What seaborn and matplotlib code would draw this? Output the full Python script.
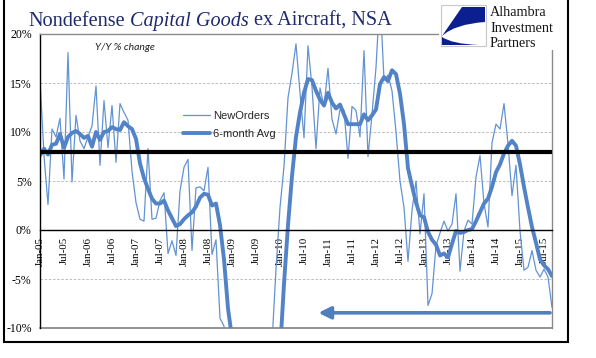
import matplotlib
matplotlib.use("Agg")
import matplotlib.pyplot as plt
import numpy as np
import pandas as pd
import seaborn as sns
from matplotlib.path import Path
from matplotlib.patches import PathPatch, Rectangle

# ---------------- data (monthly, Jan-05 .. Sep-15) ----------------
new_orders = [
    15.4, 7.6, 2.6, 10.3, 9.5, 11.4, 5.2, 18.1, 4.9, 11.7, 9.1, 8.3,      # 2005
    9.5, 10.6, 14.7, 6.6, 13.2, 8.4, 12.7, 6.9, 12.9, 12.0, 11.2, 6.0,    # 2006
    2.8, 1.1, 0.9, 8.3, 1.1, 1.2, 3.0, 3.8, -2.4, -1.1, -2.6, 4.0,        # 2007
    6.4, 7.2, -2.1, 4.3, 4.4, 4.0, 6.4, -2.5, -1.0, -9.0, -9.8, -18.0,    # 2008
    -22.0, -27.0, -30.0, -33.0, -31.0, -33.0, -30.0, -27.0, -25.0, -20.0, -11.5, -4.0,  # 2009
    2.3, 6.5, 13.5, 16.0, 19.0, 14.0, 9.4, 18.8, 14.6, 8.3, 14.5, 12.6,   # 2010
    16.5, 11.3, 9.8, 12.3, 12.2, 7.3, 12.6, 12.2, 9.5, 18.3, 7.5, 11.8,   # 2011
    16.6, 24.0, 15.3, 15.8, 14.2, 10.0, 5.0, 2.3, -3.2, 2.0, 5.0, -0.4,   # 2012
    3.7, -7.7, -6.5, -1.6, -0.3, 0.9, -0.1, 0.6, 3.7, -4.2, -0.1, 1.0,    # 2013
    0.6, 5.4, 7.6, 2.7, 0.3, 8.9, 10.8, 10.3, 12.9, 8.8, 3.5, 6.6,        # 2014
    -0.1, -4.1, -3.8, -2.1, -4.1, -4.8, -4.0, -4.8, -7.9,                # 2015
]
avg_6m = [
    7.6, 8.3, 7.7, 8.7, 8.8, 9.8, 8.4, 9.5, 9.9, 10.1, 9.8, 9.4,
    9.6, 8.5, 10.0, 9.2, 10.0, 10.1, 10.5, 10.3, 10.2, 11.0, 10.6, 10.3,
    9.3, 6.8, 5.3, 4.2, 3.2, 2.7, 2.7, 3.0, 2.0, 1.2, 0.4, 0.6,
    1.1, 1.5, 1.8, 2.4, 3.3, 3.7, 3.6, 2.5, 2.7, 0.5, -3.0, -8.0,
    -11.0, -16.0, -20.0, -24.0, -27.0, -29.0, -30.0, -29.0, -27.0, -24.0, -20.0, -16.0,
    -12.5, -5.5, 0.5, 5.5, 9.5, 12.0, 14.0, 15.4, 15.3, 14.2, 13.3, 12.7,
    14.0, 13.0, 12.4, 12.8, 11.8, 10.8, 10.8, 10.8, 10.8, 11.8, 11.2, 11.7,
    12.3, 14.9, 15.6, 15.2, 16.3, 15.9, 13.9, 10.8, 6.3, 4.5, 2.8, 1.5,
    1.3, -0.2, -1.0, -1.5, -2.6, -2.4, -2.8, -1.4, -0.1, -0.3, -0.2, 0.0,
    0.1, 0.9, 1.8, 2.7, 3.2, 4.4, 5.9, 6.7, 7.8, 8.6, 9.1, 8.6,
    6.7, 4.4, 2.3, 0.3, -1.3, -3.0, -3.6, -4.0, -4.7,
]
x_tick_labels = [
    "Jan-05", "Jul-05", "Jan-06", "Jul-06", "Jan-07", "Jul-07", "Jan-08", "Jul-08",
    "Jan-09", "Jul-09", "Jan-10", "Jul-10", "Jan-11", "Jul-11", "Jan-12", "Jul-12",
    "Jan-13", "Jul-13", "Jan-14", "Jul-14", "Jan-15", "Jul-15",
]
y_ticks = [-10, -5, 0, 5, 10, 15, 20]
y_tick_labels = ["-10%", "-5%", "0%", "5%", "10%", "15%", "20%"]
threshold = 8
arrow_level = -8.45
arrow_from, arrow_to = 127.5, 69.6

df = pd.DataFrame({"month": np.arange(len(new_orders)),
                   "NewOrders": new_orders, "6-month Avg": avg_6m})

# ---------------- style ----------------
sns.set_theme(style="white")
plt.rcParams["font.family"] = ["Liberation Serif", "DejaVu Serif"]

W, H = 596, 358
fig = plt.figure(figsize=(W / 100, H / 100), dpi=100)
ax = fig.add_axes([40 / W, 1 - 328 / H, 512 / W, 294 / H])

thin_c = "#6393d3"
thick_c = "#5283c6"
sns.lineplot(data=df, x="month", y="NewOrders", ax=ax, color=thin_c, lw=0.9,
             label="NewOrders", zorder=2)
sns.lineplot(data=df, x="month", y="6-month Avg", ax=ax, color=thick_c, lw=2.8,
             label="6-month Avg", zorder=2.1)

ax.set_xlim(0, len(new_orders) - 1)
ax.set_ylim(-10, 20)
ax.set_xlabel("")
ax.set_ylabel("")

for v in [15, 10, 5, -5]:
    ax.axhline(v, color="#b4b4b4", lw=0.6, ls=(0, (3, 2)), zorder=0)
ax.axhline(-10, color="#8a8a8a", lw=1.3, zorder=1, clip_on=False)
ax.axhline(threshold, color="black", lw=3, zorder=3)

for s in ["top", "right"]:
    ax.spines[s].set_color("#8a8a8a")
    ax.spines[s].set_linewidth(1.0)
ax.spines["left"].set_color("black")
ax.spines["left"].set_linewidth(1.0)
ax.spines["bottom"].set_position(("data", 0))
ax.spines["bottom"].set_color("black")
ax.spines["bottom"].set_linewidth(1.0)

ax.set_yticks(y_ticks)
ax.set_yticklabels(y_tick_labels, fontsize=8.5, family="Liberation Serif")
ax.set_xticks(list(range(0, 6 * len(x_tick_labels), 6)))
ax.set_xticklabels(x_tick_labels, rotation=90, fontsize=7.8, family="Liberation Serif")
ax.tick_params(axis="x", direction="out", length=3, width=0.8, pad=2, colors="black")
ax.tick_params(axis="y", direction="out", length=4, width=0.8, pad=2, colors="black")

ax.text((95 - 40) / 512, (328 - 47) / 294, "Y/Y % change", transform=ax.transAxes,
        fontsize=7.5, style="italic", family="Lato", color="#222222",
        ha="left", va="center")

h, l = ax.get_legend_handles_labels()
ax.legend(h, l, loc="upper left", bbox_to_anchor=((183 - 40) / 512, (328 - 111) / 294),
          frameon=False, prop=dict(family="Liberation Sans", size=8),
          handlelength=2.4, handletextpad=0.3, labelspacing=0.75,
          borderpad=0, borderaxespad=0)

ax.annotate("", xy=(arrow_to, arrow_level), xytext=(arrow_from, arrow_level),
            arrowprops=dict(arrowstyle="-|>,head_length=0.6,head_width=0.3",
                            lw=2.6, color="#4f7fbd", shrinkA=0, shrinkB=0),
            zorder=4)

# ---------------- overlay (pixel coordinates) ----------------
ov = fig.add_axes([0, 0, 1, 1])
ov.set_xlim(0, W)
ov.set_ylim(H, 0)
ov.axis("off")

ov.add_patch(Rectangle((438.5, 0), W - 438.5, 49.5, fc="white", ec="none", zorder=1))
ov.add_patch(Rectangle((441, 5), 45, 41, fc="white", ec="#c8c8c8", lw=0.8, zorder=2))
blue = "#0b1f8e"
top_piece = Path([(462, 7), (485, 7), (485, 22), (455, 24), (442, 36), (462, 7)],
                 [Path.MOVETO, Path.LINETO, Path.LINETO, Path.CURVE3, Path.CURVE3,
                  Path.CLOSEPOLY])
bot_piece = Path([(442, 45), (442, 37), (452, 44), (479, 45), (442, 45)],
                 [Path.MOVETO, Path.LINETO, Path.CURVE3, Path.CURVE3, Path.CLOSEPOLY])
ov.add_patch(PathPatch(top_piece, fc=blue, ec="none", zorder=3))
ov.add_patch(PathPatch(bot_piece, fc=blue, ec="none", zorder=3))

for txt, yb in [("Alhambra", 16), ("Investment", 31.5), ("Partners", 47)]:
    ov.text(490, yb, txt, fontsize=10.2, family="Liberation Serif", color="#151515",
            ha="left", va="baseline", zorder=3)

# title with mixed styles
navy = "#1f2a6e"
r = fig.canvas.get_renderer()
x = 28
fs = 14.6
space = 0.25 * fs * 100 / 72
for s, st in [("Nondefense", "normal"), ("Capital Goods", "italic"),
              ("ex Aircraft, NSA", "normal")]:
    t = ov.text(x, 26, s, fontsize=fs, style=st, family="Liberation Serif",
                color=navy, ha="left", va="baseline", zorder=3)
    x += t.get_window_extent(renderer=r).width + space

# outer frame
ov.plot([3.5, 3.5, 567.5, 567.5], [0, 342, 342, 0], color="black", lw=1.5,
        solid_joinstyle="miter", zorder=4)

fig.savefig("out.png", dpi=100)
